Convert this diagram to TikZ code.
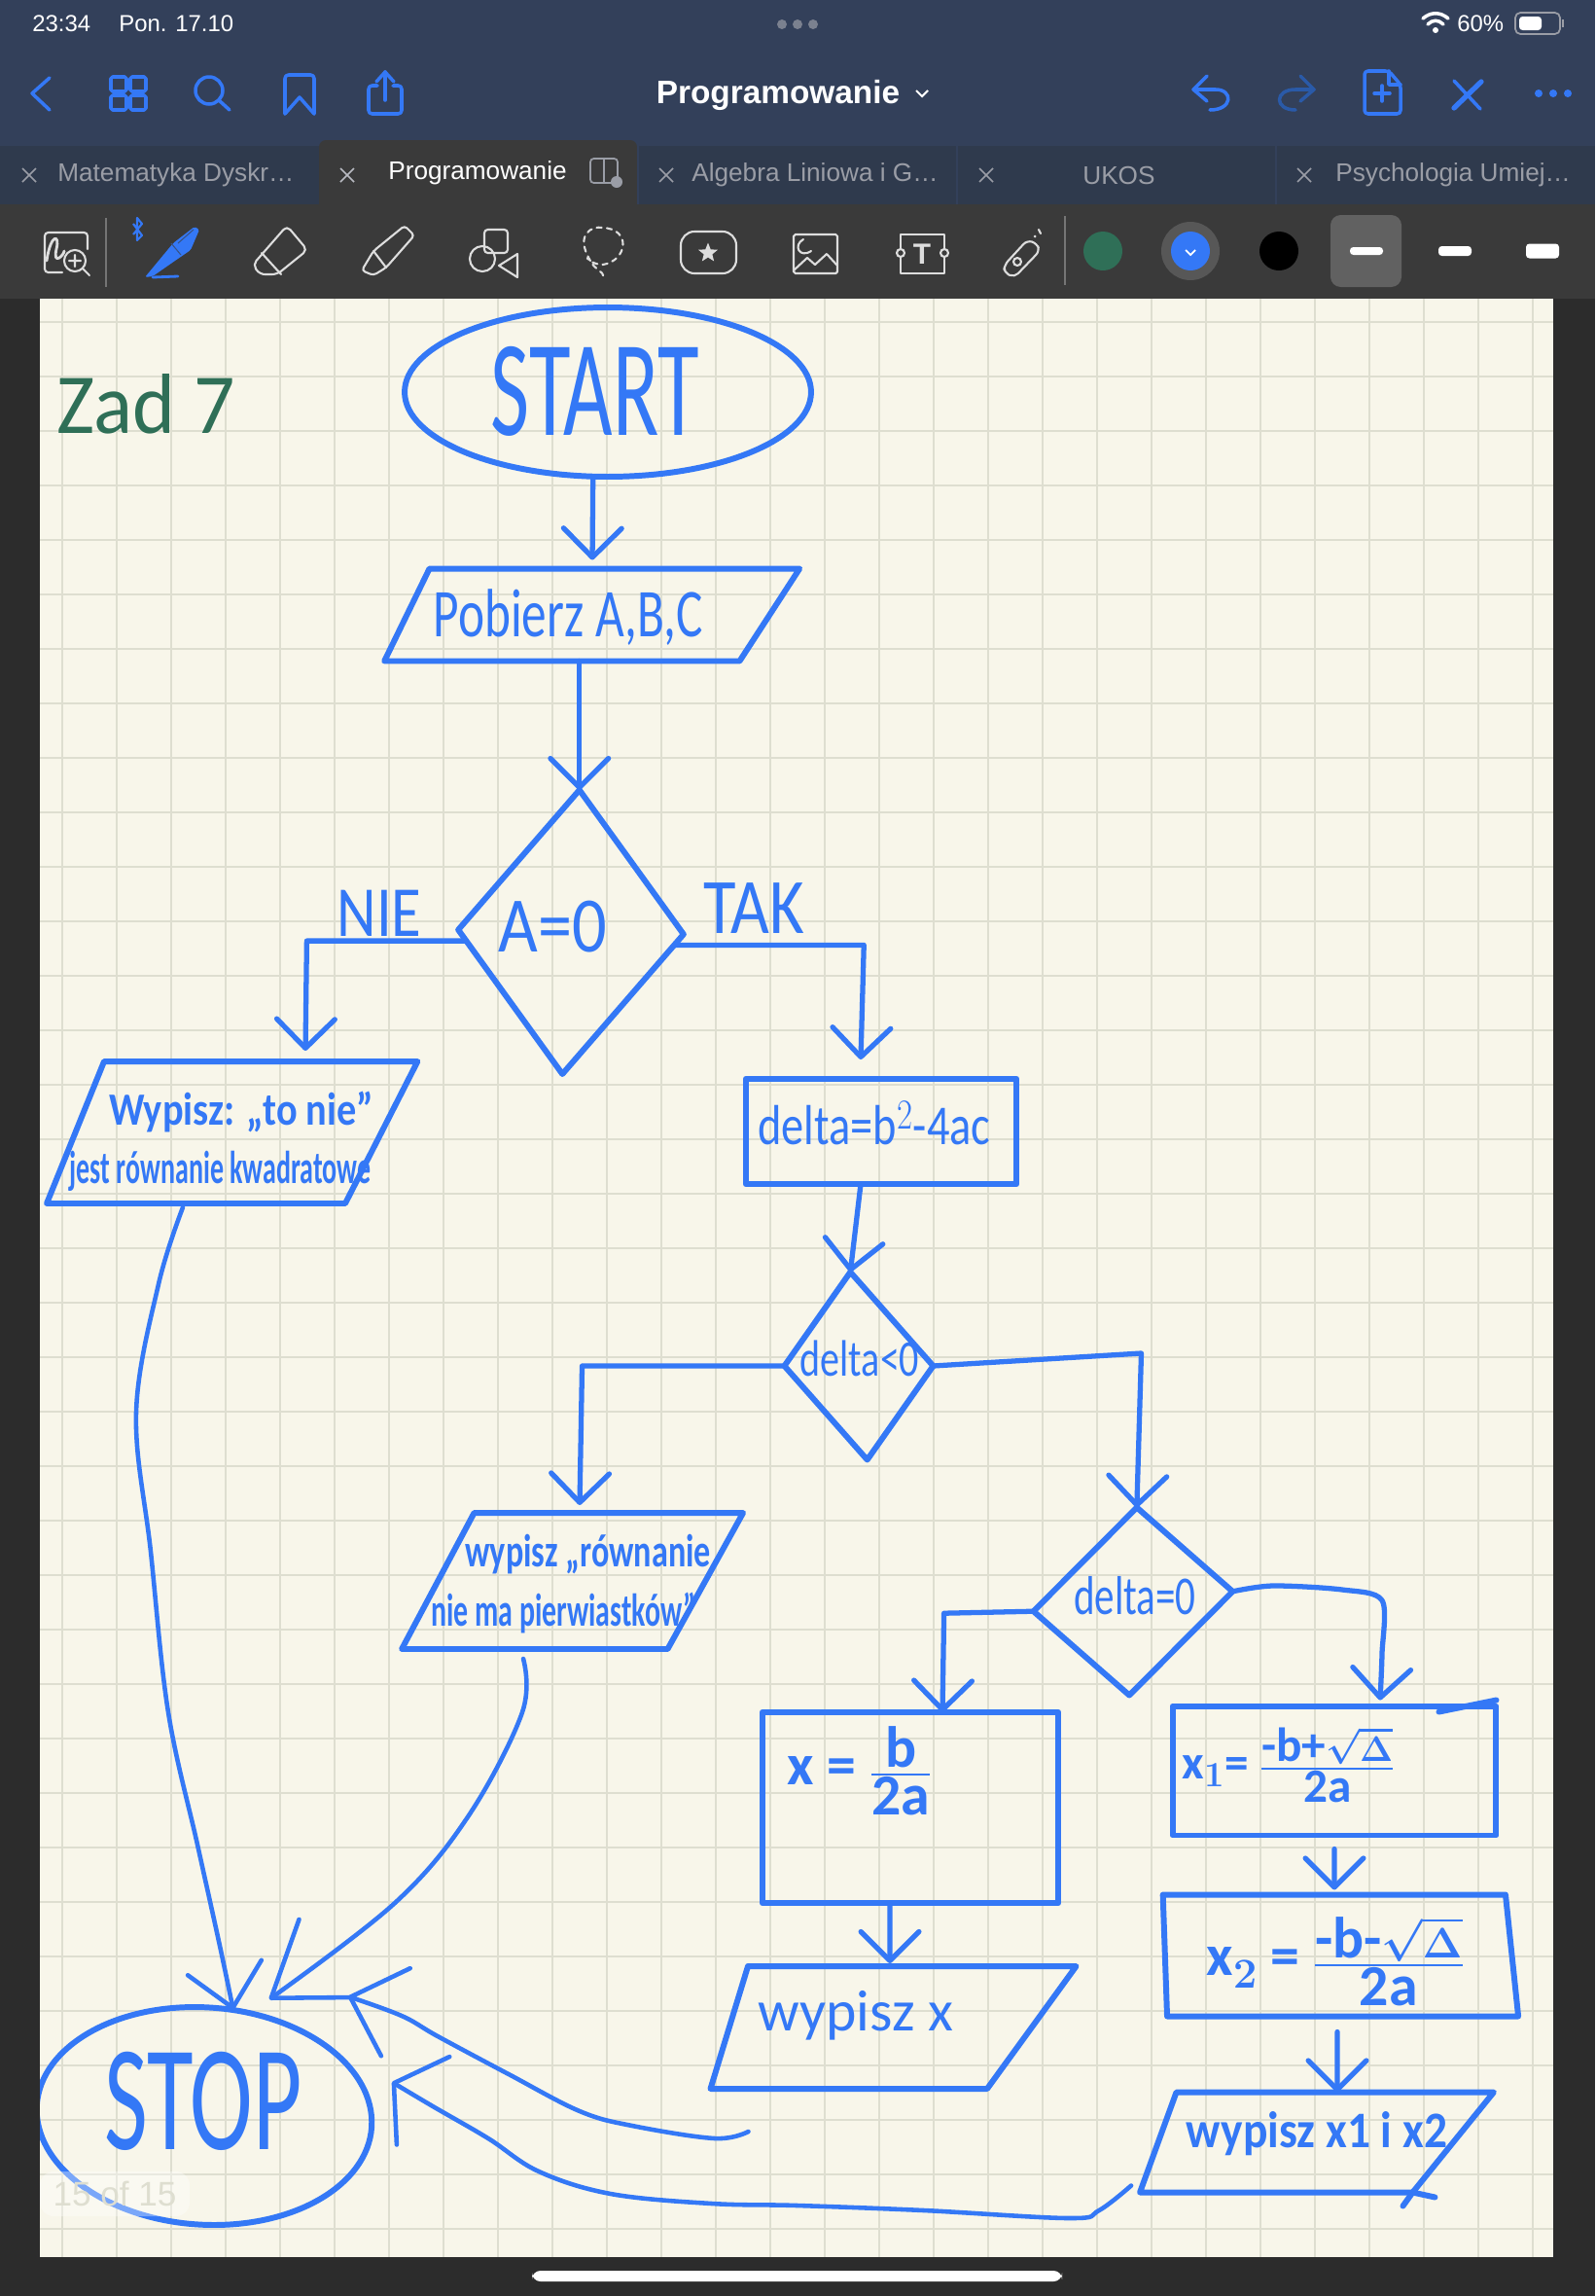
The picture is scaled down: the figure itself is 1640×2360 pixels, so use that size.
\documentclass[tikz,border=0pt]{standalone}
\usepackage{amsmath}
\usepackage{graphicx}
\usepackage{fontspec}
\setmainfont{Liberation Sans}
\newfontfamily\handfont{Carlito}
\usetikzlibrary{shapes.geometric,arrows.meta}

\definecolor{handblue}{HTML}{3478F6}
\definecolor{dimblue}{HTML}{2A5AA8}
\definecolor{zadgreen}{HTML}{2F6F57}
\definecolor{barbg}{HTML}{33405A}
\definecolor{tabbg}{HTML}{2F3A4D}
\definecolor{toolbg}{HTML}{3A3A3A}
\definecolor{sidebg}{HTML}{2C2C2C}
\definecolor{paper}{HTML}{F8F6EA}
\definecolor{gridline}{HTML}{DEDED0}
\definecolor{tabtext}{HTML}{9A9DA6}
\definecolor{icongrey}{HTML}{DDDDDD}

\newcommand{\handtext}[3]{\scalebox{#1}[1]{\handfont\fontsize{#2}{#2}\selectfont #3}}

\tikzset{
  handshape/.style={draw=handblue, line width=3.4pt, inner sep=0pt, outer sep=0pt, line join=round},
  flowbox/.style={handshape, rectangle},
  flowio/.style n args={4}{handshape, trapezium, text width=#1, text height=#2, text depth=0pt, trapezium left angle=#3, trapezium right angle=#4},
  flowcond/.style={handshape, diamond},
  terminal/.style={handshape, ellipse},
  flow/.style={handblue, line width=3pt, line cap=round, line join=round, -{Straight Barb[length=17pt,width=34pt,round]}},
  tostop/.style 2 args={handblue, line width=2.6pt, line cap=round, line join=round, -{Straight Barb[length=#1,width=#2,round]}},
  overshoot/.style={handblue, line width=3.4pt, line cap=round},
  lettering/.style={text=handblue, inner sep=0pt},
  uiblue/.style={draw=handblue, line width=2pt, line cap=round, line join=round},
  uigrey/.style={draw=icongrey, line width=1.2pt, line cap=round, line join=round},
  uitext/.style={text=white, inner sep=0pt, font=\fontsize{13.6}{14}\selectfont},
  tabtitle/.style={inner sep=0pt, anchor=west, font=\fontsize{14.9}{16}\selectfont},
}

\begin{document}
\begin{tikzpicture}[x=0.02cm, y=-0.02cm]

\useasboundingbox (0,0) rectangle (1640,2360);
\fill[sidebg] (0,0) rectangle (1640,2360);
\fill[paper] (41,307) rectangle (1597,2320);

\foreach \i in {0,...,27}
  \draw[gridline, line width=1.5pt] (64+\i*56,307) -- (64+\i*56,2320);
\foreach \i in {0,...,35}
  \draw[gridline, line width=1.5pt] (41,331+\i*56) -- (1597,331+\i*56);

\fill[barbg] (0,0) rectangle (1640,150);
\fill[tabbg] (0,150) rectangle (1640,210);
\fill[toolbg] (0,210) rectangle (1640,307);
\fill[toolbg, rounded corners=4pt] (328,144) rectangle (655,225);
\foreach \x in {656,984,1312}
  \draw[barbg, line width=.6pt] (\x,150) -- (\x,210);

\node[uitext, anchor=west] (clock) at (33,24) {23:34};
\node[uitext, anchor=west] (date) at (122,24) {Pon. 17.10};
\node[uitext, anchor=west] (battery-text) at (1498,24) {60\%};
\foreach \x in {804,820,836}
  \fill[tabtext!70!barbg] (\x,25) circle[radius=5];
\fill[white] (1476,31) circle[radius=3];
\draw[white, line width=2pt, line cap=round] (1468,25) .. controls (1473,20) and (1479,20) .. (1484,25);
\draw[white, line width=2pt, line cap=round] (1463,19) .. controls (1471,12) and (1481,12) .. (1489,19);
\draw[tabtext, line width=1pt, rounded corners=3pt] (1558,13) rectangle (1604,35);
\fill[white, rounded corners=2pt] (1562,17) rectangle (1585,31);
\fill[tabtext] (1606,20) rectangle (1608,28);

\draw[uiblue] (51,80) -- (33,96) -- (51,113);
\foreach \x in {114,134}
  \foreach \y in {79,98}
    \draw[uiblue, rounded corners=1pt] (\x,\y) rectangle (\x+16,\y+15);
\draw[uiblue] (215,93) circle[radius=14];
\draw[uiblue] (225,103) -- (236,113);
\draw[uiblue, rounded corners=2pt] (293,117) -- (293,77) -- (323,77) -- (323,117);
\draw[uiblue] (293,117) -- (308,100) -- (323,117);
\draw[uiblue, rounded corners=2pt] (388,88) -- (379,88) -- (379,117) -- (413,117) -- (413,88) -- (404,88);
\draw[uiblue] (396,103) -- (396,74);
\draw[uiblue] (387,84) -- (396,74) -- (405,84);

\node[inner sep=0pt, text=white, font=\bfseries\fontsize{19}{20}\selectfont] (title) at (800,98) {Programowanie};
\draw[white, line width=1.2pt] (942,93) -- (948,99) -- (954,93);

\draw[uiblue] (1241,78) -- (1227,92) -- (1241,104);
\draw[uiblue] (1227,92) -- (1250,92) .. controls (1268,92) and (1268,113) .. (1244,113);
\draw[uiblue, draw=dimblue] (1337,78) -- (1351,92) -- (1337,104);
\draw[uiblue, draw=dimblue] (1351,92) -- (1332,92) .. controls (1310,92) and (1310,113) .. (1332,113);
\draw[uiblue, rounded corners=2pt] (1403,73) -- (1428,73) -- (1440,87) -- (1440,117) -- (1403,117) -- cycle;
\draw[uiblue] (1428,73) -- (1428,87) -- (1440,87);
\draw[uiblue] (1421,88) -- (1421,104) (1413,96) -- (1429,96);
\draw[uiblue] (1495,83) -- (1522,112);
\draw[uiblue, line width=3pt] (1523,84) -- (1495,111);
\foreach \x in {1582,1597,1612}
  \fill[handblue] (\x,96) circle[radius=4];

\foreach \l/\x/\y/\c [count=\i] in {Matematyka Dyskr\ldots/59/180/tabtext, Programowanie/399/178/white, Algebra Liniowa i G\ldots/711/180/tabtext, UKOS/1113/180/tabtext, Psychologia Umiej\ldots/1373/180/tabtext}
  \node[tabtitle, text=\c] (tab-\i) at (\x,\y) {\l};
\foreach \x/\c in {30/tabtext,357/tabtext!70!white,685/tabtext,1014/tabtext,1341/tabtext}
  \draw[\c, line width=.9pt] (\x-7,173) -- (\x+7,187) (\x+7,173) -- (\x-7,187);
\draw[tabtext, line width=1pt, rounded corners=2pt] (607,163) rectangle (635,188) (621,163) -- (621,188);
\fill[tabtext] (634,187) circle[radius=6];

\draw[toolbg!70!white, line width=.6pt] (109,224) -- (109,295);
\draw[toolbg!70!white, line width=.6pt] (1095,222) -- (1095,293);
\draw[uigrey, rounded corners=2pt] (64,280) -- (46,280) -- (46,239) -- (90,239) -- (90,256);
\draw[uigrey, line width=1.6pt] (48,268) .. controls (52,240) and (62,240) .. (58,256) .. controls (54,274) and (66,262) .. (66,258);
\draw[uigrey, fill=toolbg] (77,268) circle[radius=11];
\draw[uigrey] (85,276) -- (92,283) (71,268) -- (83,268) (77,262) -- (77,274);

\fill[handblue, rounded corners=1pt] (149,285) -- (178,250) -- (200,233) -- (205,236) -- (196,257) -- (180,268) -- (157,284) -- cycle;
\draw[toolbg!60!handblue, line width=.6pt] (176,250) -- (186,262) (183,250) -- (199,236);
\draw[handblue, line width=1.6pt, line cap=round] (157,285) -- (183,284);
\draw[handblue, line width=1.2pt, line join=round] (137,230) -- (146,242) -- (141,247) -- (141,224) -- (146,230) -- (137,241);

\draw[uigrey, rounded corners=3pt] (295,232) -- (316,257) -- (285,282) -- (267,282) -- (260,272) -- cycle;
\draw[uigrey] (269,260) -- (289,282);
\draw[uigrey, rounded corners=2pt] (416,232) -- (426,242) -- (397,275) -- (384,283) -- (372,278) -- (384,258) -- cycle;
\draw[uigrey] (384,258) -- (397,275);

\draw[uigrey, rounded corners=2pt] (498,236) rectangle (522,260);
\draw[uigrey] (496,266) circle[radius=13];
\draw[uigrey] (532,261) -- (513,273) -- (532,285) -- cycle;
\draw[uigrey, dashed] (607,268) .. controls (590,240) and (610,232) .. (619,234) .. controls (650,235) and (645,268) .. (620,272) .. controls (605,272) and (600,260) .. (607,268) .. controls (612,278) and (620,278) .. (621,285);
\draw[uigrey, rounded corners=8pt] (700,238) rectangle (757,281);
\node[star, fill=icongrey, star point ratio=2.3, minimum size=.42cm, inner sep=0pt] (sticker-star) at (728,260) {};
\draw[uigrey, rounded corners=1pt] (816,241) rectangle (861,281);
\draw[uigrey] (816,278) -- (830,265) -- (838,272) -- (850,261) -- (861,273);
\draw[uigrey] (826,246) .. controls (815,252) and (822,266) .. (834,258);
\draw[uigrey] (926,241) rectangle (971,281);
\node[inner sep=0pt, text=icongrey, font=\bfseries\fontsize{17}{17}\selectfont] (tool-t) at (948,261) {T};
\foreach \x in {926,971}
  \draw[uigrey, fill=toolbg] (\x,260) circle[radius=4];
\draw[uigrey, rounded corners=3pt] (1066,250) -- (1056,247) -- (1033,272) -- (1032,280) -- (1043,285) -- (1069,258) -- cycle;
\draw[uigrey] (1046,269) circle[radius=4];
\fill[icongrey] (1064,243) circle[radius=1.5];
\draw[uigrey] (1068,236) -- (1070,240);

\fill[zadgreen] (1134,258) circle[radius=20];
\fill[toolbg!85!white] (1224,258) circle[radius=30];
\fill[handblue] (1224,258) circle[radius=20];
\draw[white, line width=1pt] (1219,257) -- (1224,262) -- (1229,257);
\fill[black] (1315,258) circle[radius=20];
\fill[toolbg!80!white, rounded corners=6pt] (1368,221) rectangle (1441,295);
\foreach \x/\h in {1405/8,1496/10,1586/15}
  \fill[white, rounded corners=2pt] (\x-17,258-\h/2) rectangle (\x+17,258+\h/2);

\node[terminal, minimum width=8.36cm, minimum height=3.48cm] (start) at (625,403) {};
\node[flowio={6.38cm}{1.9cm}{64}{123}] (pobierz) at (601,632) {};
\node[flowcond, minimum width=4.64cm, minimum height=5.84cm, xslant=.06, yslant=-.02] (aZero) at (587,958) {};
\node[flowio={4.96cm}{2.92cm}{68}{117}] (wypiszNie) at (231,1164) {};
\node[flowbox, minimum width=5.58cm, minimum height=2.16cm] (deltaBox) at (906,1163) {};
\node[flowcond, minimum width=3.06cm, minimum height=3.86cm, xslant=-.09] (deltaNeg) at (883,1404) {};
\node[flowio={3.98cm}{2.8cm}{62}{119}] (wypiszBrak) at (587,1625) {};
\node[flowcond, minimum width=4.08cm, minimum height=3.86cm, xslant=.04, yslant=.1] (deltaZero) at (1165,1646) {};
\node[flowbox, minimum width=6.1cm, minimum height=3.92cm] (xBox) at (936,1858) {};
\node[flowio={4.92cm}{2.52cm}{73}{126}] (wypiszX) at (892,2084) {};
\node[flowbox, minimum width=6.66cm, minimum height=2.66cm] (xOneBox) at (1372,1820) {};
\node[flowio={6.96cm}{2.5cm}{92}{84}] (xTwoBox) at (1374,2010) {};
\node[flowio={4.86cm}{2.06cm}{70}{129}] (wypiszXY) at (1331,2202) {};
\node[terminal, minimum width=6.88cm, minimum height=4.48cm, xslant=-.09] (stop) at (210,2175) {};

\node[lettering, text=zadgreen] (zad) at (150,415) {\handtext{.95}{50}{Zad 7}};
\node[lettering] (startText) at (612,402) {\handtext{.62}{80}{START}};
\node[lettering] (pobierzText) at (584,635) {\handtext{.73}{40}{Pobierz A,B,C}};
\node[lettering] (aZeroText) at (568,953) {\handtext{.87}{46}{A=0}};
\node[lettering] (nieText) at (390,939) {\handtext{.85}{42}{NIE}};
\node[lettering] (takText) at (775,934) {\handtext{.85}{46}{TAK}};
\node[lettering] (deltaBoxText) at (899,1155) {\handtext{.8}{33}{delta=b$^2$-4ac}};
\node[lettering] (deltaNegText) at (884,1396) {\handtext{.76}{30}{delta<0}};
\node[lettering] (deltaZeroText) at (1167,1640) {\handtext{.73}{32}{delta=0}};
\node[lettering, align=left] (wypiszNieText) at (228,1173) {\hspace*{23pt}\handtext{.85}{27}{\bfseries Wypisz: „to nie”}\\[10pt] \handtext{.59}{27}{\bfseries jest równanie kwadratowe}};
\node[lettering, align=left] (wypiszBrakText) at (587,1628) {\hspace*{20pt}\handtext{.72}{27}{\bfseries wypisz „równanie}\\[10pt] \handtext{.63}{27}{\bfseries nie ma pierwiastków”}};
\node[lettering] (xText) at (884,1820) {\handtext{1}{34}{\bfseries\boldmath x = $\frac{\mbox{b}}{\mbox{2a}}$}};
\node[lettering] (wypiszXText) at (880,2072) {\handtext{1}{34}{wypisz x}};
\node[lettering] (xOneText) at (1325,1814) {\handtext{1}{28}{\bfseries\boldmath x$_1$= $\frac{\mbox{-b+}\sqrt{\Delta}}{\mbox{2a}}$}};
\node[lettering] (xTwoText) at (1373,2016) {\handtext{1}{34}{\bfseries\boldmath x$_2$ = $\frac{\mbox{-b-}\sqrt{\Delta}}{\mbox{2a}}$}};
\node[lettering] (wypiszXYText) at (1354,2193) {\handtext{.9}{30}{\bfseries wypisz x1 i x2}};
\node[lettering] (stopText) at (209,2160) {\handtext{.63}{88}{STOP}};

\draw[flow] (start.260) -- ([shift={(8,-9)}]pobierz.north);
\draw[flow] (pobierz.south -| aZero.north) -- (aZero.north);
\draw[flow] (aZero.186) -- ++(-164,0) -- ([shift={(83,-11)}]wypiszNie.north);
\draw[flow] (aZero.354) -- ++(195,0) -- ([shift={(-21,-20)}]deltaBox.north);
\draw[flow] ([shift={(-21,0)}]deltaBox.south) -- (deltaNeg.north);
\draw[flow] (deltaNeg.west) -- ++(-208,0) -- ([shift={(9,-8)}]wypiszBrak.north);
\draw[flow] (deltaNeg.east) -- ++(214,-13) -- (deltaZero.north);
\draw[flow] (deltaZero.west) -- ++(-92,2) -- ([shift={(33,0)}]xBox.north);
\draw[flow] plot[smooth, tension=.5] coordinates {(deltaZero.east) (1309,1630) (1380,1634) (1421,1645) (1421,1700) ([shift={(47,-6)}]xOneBox.north)};
\draw[flow] ([shift={(0,14)}]xOneBox.south) -- ([shift={(-2,-5)}]xTwoBox.north);
\draw[flow] ([shift={(1,16)}]xTwoBox.south) -- ([shift={(44,0)}]wypiszXY.north);
\draw[flow] ([shift={(-21,3)}]xBox.south) -- ([shift={(23,-3)}]wypiszX.north);

\draw[tostop={24pt}{44pt}] plot[smooth, tension=.6] coordinates {([shift={(-43,4)}]wypiszNie.south) (163,1320) (140,1452) (155,1595) (173,1760) (203,1896) (226,2000) (stop.70)};
\draw[tostop={40pt}{56pt}] plot[smooth, tension=.6] coordinates {([shift={(-49,10)}]wypiszBrak.south) (537,1760) (482,1866) (406,1956) ([shift={(77,-8)}]stop.north)};
\draw[tostop={28pt}{54pt}] plot[smooth, tension=.6] coordinates {([shift={(39,44)}]wypiszX.bottom left corner) (735,2198) (650,2185) (596,2170) (523,2132) (450,2093) (413,2072) ([shift={(158,-11)}]stop.north)};
\draw[tostop={20pt}{60pt}] plot[smooth, tension=.6] coordinates {([shift={(-9,-7)}]wypiszXY.bottom left corner) (1130,2272) (1100,2280) (950,2272) (820,2267) (732,2265) (628,2255) (554,2232) (502,2198) (445,2165) ([shift={(21,-35)}]stop.east)};

\draw[overshoot] ([shift={(-59,6)}]xOneBox.north east) -- ([shift={(0,-6)}]xOneBox.north east);
\draw[overshoot] ([shift={(-10,14)}]wypiszXY.bottom right corner) -- (wypiszXY.bottom right corner) -- ([shift={(23,5)}]wypiszXY.bottom right corner);

\fill[sidebg] (0,2000) rectangle (41,2320);
\fill[white, opacity=.35, rounded corners=8pt] (41,2232) rectangle (195,2278);
\node[inner sep=0pt, text=gridline, font=\fontsize{20}{20}\selectfont] (pageCount) at (118,2255) {15 of 15};
\fill[white, rounded corners=5pt] (547,2334) rectangle (1092,2345);

\end{tikzpicture}
\end{document}
